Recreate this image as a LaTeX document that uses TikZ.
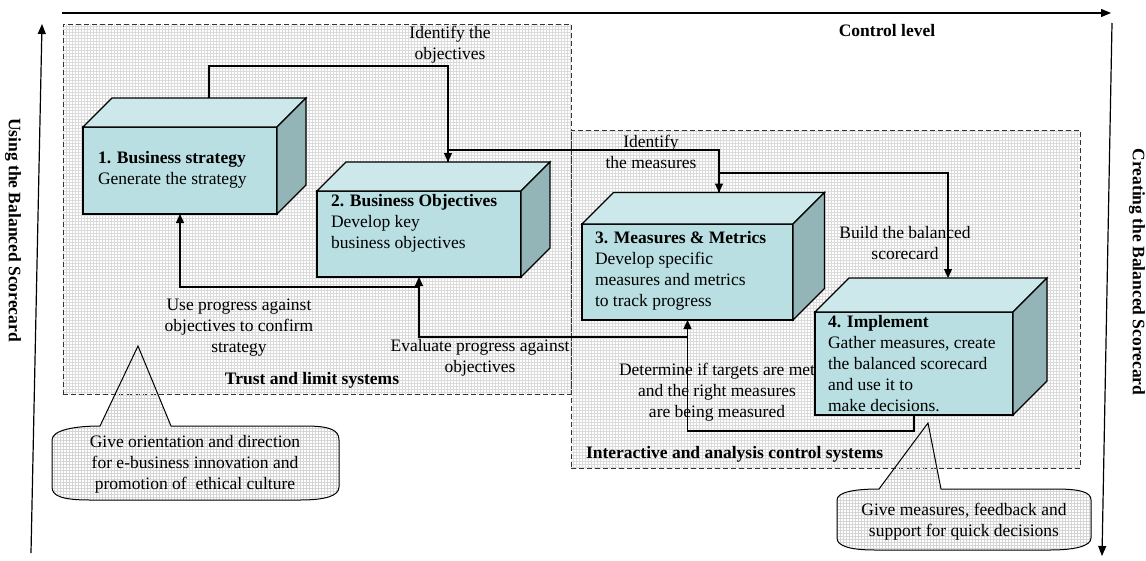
\documentclass[tikz,border=0pt]{standalone}
\usepackage{fontspec}
\setmainfont{Liberation Serif}
\usetikzlibrary{arrows.meta,patterns,calc}
\definecolor{frontc}{RGB}{185,223,226}
\definecolor{topc}{RGB}{205,232,234}
\definecolor{sidec}{RGB}{148,181,183}
\newcommand\mycube[2]{%
  \filldraw[facedraw,fill=topc] (#1.north west) -- ($(#1.north west)+(#2,-#2)$) -- ($(#1.north east)+(#2,-#2)$) -- (#1.north east) -- cycle;
  \filldraw[facedraw,fill=sidec] (#1.north east) -- ($(#1.north east)+(#2,-#2)$) -- ($(#1.south east)+(#2,-#2)$) -- (#1.south east) -- cycle;
}
\begin{document}
\begin{tikzpicture}[x=1pt,y=-1pt,
  txt/.style={font=\fontsize{17.5}{21}\selectfont, inner sep=0pt, outer sep=0pt},
  lbl/.style={txt, align=center},
  blbl/.style={lbl, font=\fontsize{17.5}{21}\selectfont\bfseries},
  boxtxt/.style={txt, align=left, anchor=west},
  facedraw/.style={draw=black, line width=1.1pt, line join=miter},
  face/.style={facedraw, fill=frontc, inner sep=0pt, outer sep=0pt},
  region/.style={draw=black!80, line width=0.9pt, dash pattern=on 5pt off 3pt, pattern=grid, pattern color=gray!28, inner sep=0pt, outer sep=0pt},
  callout/.style={draw=black, line width=1pt, pattern=grid, pattern color=gray!33},
  arr/.style={line width=1.2pt, -{Triangle[length=9pt,width=8pt]}},
  axis/.style={line width=1.2pt, -{Triangle[length=10pt,width=8pt]}}
]
\useasboundingbox (0,0) rectangle (1146,560);

% regions
\node[region, minimum width=508pt, minimum height=370pt] (r1) at (317,209) {};
\node[region, minimum width=509pt, minimum height=338pt] (r2) at (825.5,299) {};

% axes
\coordinate (tl) at (62,13);
\coordinate (tr) at (1111,13);
\coordinate (lb) at (31,553);
\coordinate (lt) at (42,24);
\coordinate (rt) at (1112,23);
\coordinate (rb) at (1102,556);
\draw[axis] (tl) -- (tr);
\draw[axis] (lb) -- (lt);
\draw[axis] (rt) -- (rb);

\node[blbl] (cl) at (887,31) {Control level};
\node[blbl, rotate=-90] (usebsc) at (13,230) {Using the Balanced Scorecard};
\node[blbl, rotate=-90] (crebsc) at (1137,272) {Creating the Balanced Scorecard};

% box front faces (positions)
\node[face, minimum width=194pt, minimum height=87pt] (b1) at (180,170.5) {};
\node[face, minimum width=204pt, minimum height=86pt] (b2) at (419,234) {};
\node[face, minimum width=211pt, minimum height=96pt] (b3) at (687.5,272) {};
\node[face, minimum width=198pt, minimum height=103pt] (b4) at (914,363.5) {};

\coordinate (b1t) at ($(b1.north)+(29,-29)$);
\coordinate (b2t) at ($(b2.north)+(29,-29)$);
\coordinate (b3t) at ($(b3.north)+(31.5,-31.5)$);
\coordinate (b4t) at ($(b4.north)+(34,-34)$);

% connectors
\draw[arr] (b1t) -- (b1t |- 0,66) -| (b2t);
\draw[arr] (b2t) -- (b2t |- 0,150) -| (b3t);
\draw[arr] (b3t) -- (b3t |- 0,173) -| (b4t);
\draw[arr] (b4.south) -- (b4.south |- 0,431) -| (b3.south);
\draw[arr] (b3.south |- 0,337) -| (b2.south);
\draw[arr] (b2.south |- 0,287) -| (b1.south);

% cuboids drawn over connector ends
\node[face, minimum width=194pt, minimum height=87pt] (b1f) at (b1) {};
\mycube{b1f}{29}
\node[face, minimum width=204pt, minimum height=86pt] (b2f) at (b2) {};
\mycube{b2f}{29}
\node[face, minimum width=211pt, minimum height=96pt] (b3f) at (b3) {};
\mycube{b3f}{31.5}
\node[face, minimum width=198pt, minimum height=103pt] (b4f) at (b4) {};
\mycube{b4f}{34}

% box texts
\node[boxtxt] (t1) at (98,169.5) {\textbf{1. Business strategy}\\Generate the strategy};
\node[boxtxt] (t2) at (331,223) {\textbf{2. Business Objectives}\\Develop key\\business objectives};
\node[boxtxt] (t3) at (595,271) {\textbf{3. Measures \& Metrics}\\Develop specific\\measures and metrics\\to track progress};
\node[boxtxt] (t4) at (828,363.5) {\textbf{4. Implement}\\Gather measures, create\\the balanced scorecard\\and use it to\\make decisions.};

% connector labels
\node[lbl] (l1) at (450,44.5) {Identify the\\objectives};
\node[lbl] (l2) at (651,151.5) {Identify\\the measures};
\node[lbl] (l3) at (905,243.5) {Build the balanced\\scorecard};
\node[lbl] (l4) at (717,392) {Determine if targets are met\\and the right measures\\are being measured};
\node[lbl] (l5) at (480,357.5) {Evaluate progress against\\objectives};
\node[lbl] (l6) at (239,328) {Use progress against\\objectives to confirm\\strategy};

\node[blbl] (r1l) at (312,380) {Trust and limit systems};
\node[blbl, anchor=west] (r2l) at (586,454) {Interactive and analysis control systems};

% callouts
\draw[callout] (52,440) .. controls (52,430) and (75,426) .. (100,426) -- (138,346) -- (171,426) -- (305,426) .. controls (330,426) and (339,430) .. (339,440) -- (339,487) .. controls (339,496) and (325,500) .. (300,500) -- (90,500) .. controls (62,500) and (52,496) .. (52,487) -- cycle;
\node[lbl] (c1) at (195,464.5) {Give orientation and direction\\for e-business innovation and\\promotion of\ \ ethical culture};

\draw[callout] (837,500) .. controls (837,492) and (855,489) .. (879,489) -- (928,423) -- (941,489) -- (1055,489) .. controls (1080,489) and (1091,492) .. (1091,500) -- (1091,538) .. controls (1091,546) and (1075,550) .. (1050,550) -- (875,550) .. controls (850,550) and (837,546) .. (837,538) -- cycle;
\node[lbl] (c2) at (964,522) {Give measures, feedback and\\support for quick decisions};
\end{tikzpicture}
\end{document}
